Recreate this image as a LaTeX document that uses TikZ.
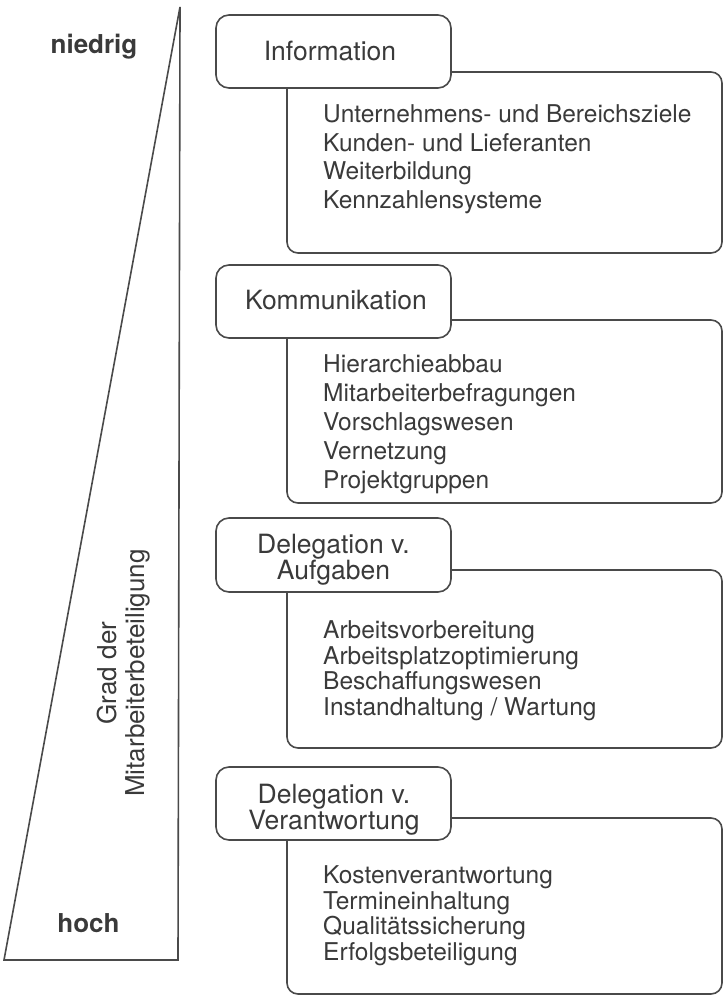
\documentclass[tikz,border=0pt]{standalone}
\usepackage{fontspec}
\setmainfont{TeX Gyre Heros}
\definecolor{ink}{HTML}{3A3A3A}
\definecolor{rule}{HTML}{4A4A4A}
\tikzset{
  frame/.style={draw=rule, line width=1.6pt},
  hdrbox/.style={frame, rounded corners=13pt, fill=white, minimum width=235pt, inner sep=0pt},
  bodybox/.style={frame, rounded corners=11pt, minimum width=435pt, inner sep=0pt},
  hdrtext/.style={text=ink, font=\fontsize{26.5}{23}\selectfont, align=center, inner sep=0pt},
  bodytext/.style={text=ink, align=left, inner sep=0pt, anchor=north west},
  endlabel/.style={text=ink, font=\bfseries\fontsize{26}{30}\selectfont, anchor=base, inner sep=0pt},
}
\begin{document}
\begin{tikzpicture}[x=1pt, y=-1pt]
\useasboundingbox (0,0) rectangle (727,998);

% wedge: degree of employee participation
\coordinate (apex) at (180,7);
\coordinate (bl) at (4,960);
\coordinate (br) at (178,960);
\draw[frame, line join=miter] (apex) -- (bl) -- (br) -- cycle;
\node[endlabel] (low) at (94,53) {niedrig};
\node[endlabel] (high) at (88.5,932) {hoch};
\node[text=ink, font=\fontsize{26}{28}\selectfont, align=center, inner sep=0pt, rotate=90]
  (axis) at (124,673) {Grad der\\Mitarbeiterbeteiligung};

% content boxes (drawn first, headers overlap them)
\node[bodybox, minimum height=181pt] (c1) at (504.5,162.5) {};
\node[bodybox, minimum height=183pt] (c2) at (504.5,411.5) {};
\node[bodybox, minimum height=178pt] (c3) at (504.5,659) {};
\node[bodybox, minimum height=176pt] (c4) at (504.5,906) {};

% header boxes
\node[hdrbox, minimum height=73pt] (h1) at (333.5,51.5) {};
\node[hdrbox, minimum height=73pt] (h2) at (333.5,301.5) {};
\node[hdrbox, minimum height=74pt] (h3) at (333.5,555) {};
\node[hdrbox, minimum height=73pt] (h4) at (333.5,803.5) {};

\node[hdrtext, anchor=base] (t1) at (330,60) {Information};
\node[hdrtext, anchor=base] (t2) at (336,309) {Kommunikation};
\node[hdrtext] (t3) at (333.5,559.8) {Delegation v.\\Aufgaben};
\node[hdrtext] (t4) at (334,809.3) {Delegation v.\\Verantwortung};

% lists
\node[bodytext, font=\fontsize{24.5}{28.7}\selectfont] (l1) at (323,104.3)
  {Unternehmens- und Bereichsziele\\Kunden- und Lieferanten\\Weiterbildung\\Kennzahlensysteme};
\node[bodytext, font=\fontsize{24.5}{29}\selectfont] (l2) at (323,354.3)
  {Hierarchieabbau\\Mitarbeiterbefragungen\\Vorschlagswesen\\Vernetzung\\Projektgruppen};
\node[bodytext, font=\fontsize{24.5}{25.7}\selectfont] (l3) at (323,620.3)
  {Arbeitsvorbereitung\\Arbeitsplatzoptimierung\\Beschaffungswesen\\Instandhaltung / Wartung};
\node[bodytext, font=\fontsize{24.5}{25.7}\selectfont] (l4) at (323,865.3)
  {Kostenverantwortung\\Termineinhaltung\\Qualitätssicherung\\Erfolgsbeteiligung};
\end{tikzpicture}
\end{document}
